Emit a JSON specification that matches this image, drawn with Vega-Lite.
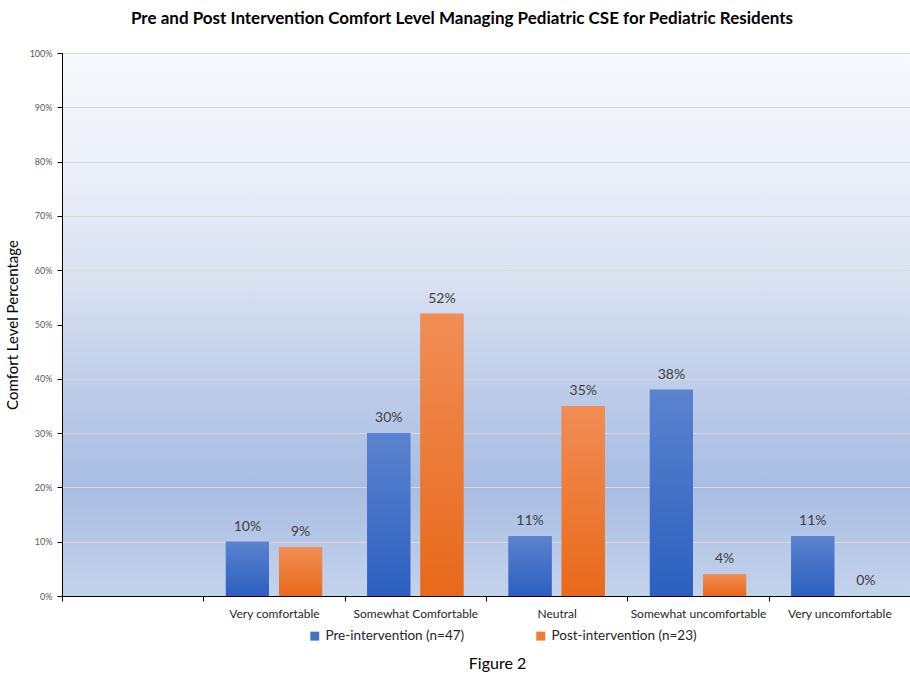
{
  "$schema": "https://vega.github.io/schema/vega-lite/v6.json",
  "width": 848,
  "height": 543,
  "autosize": "none",
  "padding": {"left": 62, "top": 53, "right": 0, "bottom": 87},
  "background": "white",
  "title": {
    "text": "Pre and Post Intervention Comfort Level Managing Pediatric CSE for Pediatric Residents",
    "fontSize": 17,
    "font": "Lato",
    "fontWeight": "bold",
    "color": "#000000",
    "anchor": "middle",
    "dx": -24,
    "offset": 21
  },
  "config": {
    "font": "Lato",
    "view": {
      "stroke": null,
      "fill": {
        "gradient": "linear",
        "x1": 0, "y1": 0, "x2": 0, "y2": 1,
        "stops": [
          {"offset": 0, "color": "#f8f9fd"},
          {"offset": 0.2, "color": "#ecf0f9"},
          {"offset": 0.43, "color": "#d8e0f1"},
          {"offset": 0.63, "color": "#bccbe8"},
          {"offset": 0.8, "color": "#a9bde3"},
          {"offset": 1, "color": "#c4d3ec"}
        ]
      }
    }
  },
  "data": {
    "values": [
      {"level": "Very comfortable", "group": "Pre-intervention (n=47)", "pct": 0.10},
      {"level": "Very comfortable", "group": "Post-intervention (n=23)", "pct": 0.09},
      {"level": "Somewhat Comfortable", "group": "Pre-intervention (n=47)", "pct": 0.30},
      {"level": "Somewhat Comfortable", "group": "Post-intervention (n=23)", "pct": 0.52},
      {"level": "Neutral", "group": "Pre-intervention (n=47)", "pct": 0.11},
      {"level": "Neutral", "group": "Post-intervention (n=23)", "pct": 0.35},
      {"level": "Somewhat uncomfortable", "group": "Pre-intervention (n=47)", "pct": 0.38},
      {"level": "Somewhat uncomfortable", "group": "Post-intervention (n=23)", "pct": 0.04},
      {"level": "Very uncomfortable", "group": "Pre-intervention (n=47)", "pct": 0.11},
      {"level": "Very uncomfortable", "group": "Post-intervention (n=23)", "pct": 0.0}
    ]
  },
  "encoding": {
    "x": {
      "field": "level",
      "type": "nominal",
      "sort": null,
      "scale": {
        "domain": [" ", "Very comfortable", "Somewhat Comfortable", "Neutral", "Somewhat uncomfortable", "Very uncomfortable"],
        "paddingInner": 0,
        "paddingOuter": 0
      },
      "axis": {
        "title": "Figure 2",
        "titleFontSize": 16,
        "titleFontWeight": "normal",
        "titleColor": "#000000",
        "titlePadding": 36,
        "titleX": 435,
        "labelAngle": 0,
        "labelFontSize": 12,
        "labelColor": "#262626",
        "labelPadding": 7,
        "tickBand": "extent",
        "tickSize": 5,
        "tickColor": "#000000",
        "domainColor": "#000000",
        "grid": false
      }
    },
    "xOffset": {
      "field": "group",
      "type": "nominal",
      "sort": ["Pre-intervention (n=47)", "Post-intervention (n=23)"],
      "scale": {"paddingInner": 0.189, "paddingOuter": 0.424}
    },
    "y": {
      "field": "pct",
      "type": "quantitative",
      "scale": {"domain": [0, 1]},
      "axis": {
        "title": "Comfort Level Percentage",
        "titleFontSize": 15,
        "titleFontWeight": "normal",
        "titleColor": "#000000",
        "titlePadding": 9,
        "format": ".0%",
        "values": [0, 0.1, 0.2, 0.3, 0.4, 0.5, 0.6, 0.7, 0.8, 0.9, 1],
        "labelFontSize": 9,
        "labelColor": "#595959",
        "labelPadding": 5,
        "tickSize": 5,
        "tickColor": "#000000",
        "domainColor": "#000000",
        "gridColor": "#d9d9d9"
      }
    }
  },
  "layer": [
    {
      "mark": {"type": "bar"},
      "encoding": {
        "color": {
          "field": "group",
          "type": "nominal",
          "scale": {
            "domain": ["Pre-intervention (n=47)", "Post-intervention (n=23)"],
            "range": ["#4472c4", "#ed7d31"]
          },
          "legend": {
            "orient": "none",
            "legendX": 246,
            "legendY": 576,
            "direction": "horizontal",
            "title": null,
            "symbolType": "square",
            "symbolSize": 80,
            "labelFontSize": 13.5,
            "labelColor": "#262626",
            "labelOffset": 4,
            "columnPadding": 69
          }
        }
      }
    },
    {
      "mark": {"type": "bar"},
      "encoding": {
        "fill": {
          "condition": {
            "test": "datum.group === 'Pre-intervention (n=47)'",
            "value": {
              "gradient": "linear", "x1": 0, "y1": 0, "x2": 0, "y2": 1,
              "stops": [{"offset": 0, "color": "#5b83cf"}, {"offset": 1, "color": "#2c5fbf"}]
            }
          },
          "value": {
            "gradient": "linear", "x1": 0, "y1": 0, "x2": 0, "y2": 1,
            "stops": [{"offset": 0, "color": "#f18d55"}, {"offset": 1, "color": "#e8691b"}]
          }
        }
      }
    },
    {
      "mark": {"type": "text", "dy": -15, "fontSize": 14, "color": "#404040"},
      "encoding": {
        "text": {"field": "pct", "type": "quantitative", "format": ".0%"}
      }
    }
  ]
}
